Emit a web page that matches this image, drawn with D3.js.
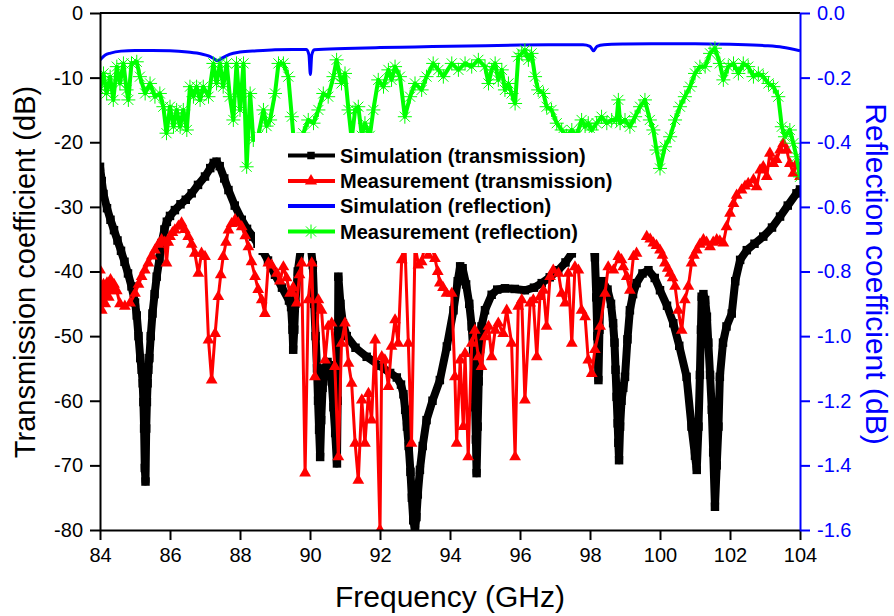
<!DOCTYPE html>
<html><head><meta charset="utf-8">
<script src="https://cdn.jsdelivr.net/npm/d3@7"></script>
<style>body{margin:0;background:#fff}svg{display:block}text{font-family:"Liberation Sans",Arial,sans-serif}</style>
</head><body><svg id="c" width="894" height="616"></svg>
<script>
const xTicks = [84,86,88,90,92,94,96,98,100,102,104];
const xTickLabels = ["84","86","88","90","92","94","96","98","100","102","104"];
const yLeftTicks = [0,-10,-20,-30,-40,-50,-60,-70,-80];
const yLeftLabels = ["0","-10","-20","-30","-40","-50","-60","-70","-80"];
const yRightTicks = [0,-0.2,-0.4,-0.6,-0.8,-1.0,-1.2,-1.4,-1.6];
const yRightLabels = ["0.0","-0.2","-0.4","-0.6","-0.8","-1.0","-1.2","-1.4","-1.6"];
const legendLabels = ["Simulation (transmission)","Measurement (transmission)","Simulation (reflection)","Measurement (reflection)"];

// Simulation (transmission) [GHz, dB] - left axis
const simTrans = [[84.00,-23.8],[84.05,-26.0],[84.10,-28.0],[84.20,-30.2],[84.30,-32.0],[84.40,-33.6],[84.50,-35.2],[84.60,-36.8],[84.70,-38.5],[84.80,-40.3],[84.90,-42.3],[85.00,-44.8],[85.05,-46.8],[85.10,-50.0],[85.15,-53.4],[85.19,-55.2],[85.22,-57.3],[85.24,-60.2],[85.26,-64.3],[85.28,-70.4],[85.30,-72.5],[85.32,-64.3],[85.34,-60.2],[85.36,-57.3],[85.38,-55.2],[85.41,-53.4],[85.45,-50.0],[85.50,-46.5],[85.56,-43.5],[85.62,-40.8],[85.70,-38.0],[85.76,-35.6],[85.84,-33.5],[85.91,-32.3],[86.00,-31.4],[86.14,-30.5],[86.30,-29.6],[86.45,-28.9],[86.62,-27.9],[86.80,-26.6],[87.00,-25.3],[87.15,-24.0],[87.25,-23.2],[87.33,-23.0],[87.42,-23.7],[87.55,-25.6],[87.67,-27.4],[87.85,-29.8],[88.05,-32.0],[88.20,-33.4],[88.37,-34.6],[88.50,-35.7],[88.65,-36.8],[88.80,-38.3],[89.00,-40.5],[89.20,-42.5],[89.40,-44.5],[89.46,-45.5],[89.50,-49.0],[89.52,-52.1],[89.55,-49.0],[89.58,-45.0],[89.65,-40.0],[89.75,-36.0],[89.90,-34.5],[90.00,-35.0],[90.08,-39.0],[90.12,-45.0],[90.16,-50.0],[90.20,-55.0],[90.23,-60.0],[90.26,-64.5],[90.29,-68.7],[90.32,-63.0],[90.36,-58.0],[90.42,-55.0],[90.50,-54.0],[90.57,-54.5],[90.62,-57.0],[90.67,-61.0],[90.72,-65.0],[90.77,-69.7],[90.79,-60.0],[90.80,-50.0],[90.81,-40.8],[90.87,-45.0],[90.94,-48.0],[91.05,-50.0],[91.30,-51.8],[91.62,-53.2],[92.00,-54.6],[92.29,-55.7],[92.48,-56.4],[92.60,-57.5],[92.67,-59.0],[92.72,-61.4],[92.77,-64.0],[92.82,-67.0],[92.87,-71.0],[92.91,-75.0],[92.95,-78.5],[93.00,-80.0],[93.04,-78.0],[93.08,-74.5],[93.14,-70.7],[93.22,-67.0],[93.33,-63.0],[93.50,-60.0],[93.71,-56.8],[93.91,-51.6],[94.10,-46.0],[94.22,-41.5],[94.29,-39.2],[94.36,-39.5],[94.46,-42.0],[94.55,-45.0],[94.62,-48.5],[94.66,-52.0],[94.69,-56.0],[94.72,-61.0],[94.74,-66.0],[94.76,-71.2],[94.79,-64.0],[94.82,-57.0],[94.86,-52.0],[94.90,-48.5],[95.00,-46.0],[95.19,-43.6],[95.35,-42.8],[95.57,-42.6],[95.85,-42.7],[96.14,-42.9],[96.40,-42.5],[96.62,-41.8],[96.85,-40.9],[97.09,-39.8],[97.30,-38.6],[97.48,-37.2],[97.65,-35.0],[97.85,-33.5],[98.00,-34.0],[98.10,-36.0],[98.14,-37.8],[98.18,-44.0],[98.21,-50.0],[98.24,-56.8],[98.27,-49.0],[98.30,-43.0],[98.36,-41.5],[98.50,-42.8],[98.60,-45.0],[98.66,-48.0],[98.70,-51.0],[98.73,-55.2],[98.76,-59.4],[98.79,-63.5],[98.81,-66.5],[98.83,-69.2],[98.86,-64.0],[98.90,-60.0],[98.95,-58.0],[99.00,-56.3],[99.07,-50.5],[99.14,-46.0],[99.23,-43.5],[99.33,-41.8],[99.50,-40.3],[99.67,-39.8],[99.85,-41.0],[100.00,-42.9],[100.20,-45.3],[100.38,-48.0],[100.55,-51.5],[100.76,-56.3],[100.90,-64.0],[101.00,-68.5],[101.05,-70.7],[101.10,-64.0],[101.14,-56.0],[101.17,-49.0],[101.19,-43.9],[101.24,-43.5],[101.29,-44.4],[101.34,-47.0],[101.38,-51.0],[101.43,-56.0],[101.48,-61.4],[101.52,-68.0],[101.57,-76.4],[101.62,-70.0],[101.67,-64.0],[101.71,-56.3],[101.80,-51.0],[101.90,-48.5],[102.05,-46.5],[102.15,-41.5],[102.29,-38.2],[102.48,-36.7],[102.70,-35.7],[102.95,-34.6],[103.20,-33.2],[103.43,-31.5],[103.65,-29.8],[103.90,-27.9],[104.00,-27.3]];

// Measurement (transmission) [GHz, dB] - left axis (null = gap)
const measTrans = [[84.00,-39.8],[84.05,-46.0],[84.10,-42.0],[84.15,-45.0],[84.20,-41.8],[84.25,-44.0],[84.30,-41.3],[84.35,-43.0],[84.40,-42.0],[84.48,-43.0],[84.57,-45.0],[84.71,-45.4],[84.86,-44.9],[85.00,-43.4],[85.10,-42.0],[85.19,-40.8],[85.28,-39.8],[85.38,-38.7],[85.48,-37.6],[85.57,-36.7],[85.67,-35.8],[85.76,-35.1],[85.85,-35.5],[85.90,-38.7],[85.95,-35.5],[86.00,-34.6],[86.07,-34.0],[86.14,-33.6],[86.24,-33.0],[86.33,-32.5],[86.42,-33.5],[86.52,-34.6],[86.62,-35.8],[86.71,-37.2],[86.81,-40.3],[86.90,-37.2],[87.00,-37.7],[87.10,-50.6],[87.19,-56.8],[87.29,-49.6],[87.38,-43.9],[87.45,-40.5],[87.52,-37.7],[87.60,-35.5],[87.67,-33.6],[87.76,-32.6],[87.86,-32.0],[87.95,-32.5],[88.05,-33.1],[88.15,-34.5],[88.24,-36.2],[88.33,-38.5],[88.43,-40.8],[88.52,-42.8],[88.62,-44.4],[88.71,-46.5],[88.81,-38.7],[88.90,-39.0],[89.05,-40.3],[89.14,-41.5],[89.24,-39.3],[89.33,-41.0],[89.43,-43.4],[89.52,-42.5],[89.62,-44.9],[89.70,-40.5],[89.76,-38.7],[89.86,-71.2],[89.95,-44.4],[90.05,-38.7],[90.14,-56.3],[90.24,-44.4],[90.33,-46.0],[90.43,-53.7],[90.52,-48.5],[90.62,-48.0],[90.71,-54.7],[90.81,-68.7],[90.90,-51.1],[91.00,-48.0],[91.10,-54.2],[91.19,-57.3],[91.29,-66.6],[91.38,-72.3],[91.48,-59.9],[91.57,-66.6],[91.67,-58.9],[91.76,-63.0],[91.86,-50.6],[92.00,-80.0],[92.05,-53.2],[92.14,-53.7],[92.24,-57.8],[92.33,-51.6],[92.43,-47.5],[92.52,-51.1],[92.62,-38.2],[92.71,-35.5],[92.81,-51.1],[92.90,-66.6],[93.00,-36.0],[93.10,-39.0],[93.19,-38.5],[93.28,-36.0],[93.38,-37.5],[93.48,-36.0],[93.57,-38.0],[93.65,-40.0],[93.71,-41.8],[93.80,-42.5],[93.90,-43.4],[94.05,-43.4],[94.14,-56.3],[94.19,-66.6],[94.29,-53.7],[94.38,-64.0],[94.43,-52.7],[94.52,-68.7],[94.62,-51.1],[94.71,-49.1],[94.81,-53.2],[94.90,-54.7],[95.00,-50.1],[95.10,-48.5],[95.19,-53.2],[95.29,-49.1],[95.38,-48.0],[95.52,-49.6],[95.62,-46.0],[95.76,-51.1],[95.86,-68.7],[95.95,-45.4],[96.05,-44.4],[96.14,-59.9],[96.29,-44.9],[96.38,-44.4],[96.48,-53.2],[96.57,-43.9],[96.67,-42.9],[96.76,-48.5],[96.86,-40.8],[96.95,-39.8],[97.10,-40.3],[97.19,-43.4],[97.29,-44.9],[97.38,-40.3],[97.48,-51.1],[97.57,-39.3],[97.67,-39.8],[97.76,-46.0],[97.86,-47.0],[97.95,-53.7],[98.05,-55.8],[98.14,-52.1],[98.29,-48.5],[98.43,-43.4],[98.52,-39.3],[98.67,-39.8],[98.81,-37.7],[98.90,-38.2],[98.95,-39.3],[99.05,-40.8],[99.14,-42.9],[99.24,-37.7],[99.33,-37.2],[99.48,null],[99.62,-34.6],[99.72,-35.0],[99.81,-35.6],[99.90,-36.0],[100.00,-36.7],[100.07,-37.5],[100.14,-38.7],[100.22,-39.5],[100.29,-40.3],[100.36,-41.0],[100.43,-42.3],[100.52,-46.0],[100.62,-49.1],[100.71,-44.4],[100.81,-42.3],[100.90,-38.7],[100.97,-37.5],[101.05,-36.7],[101.14,-35.8],[101.24,-35.1],[101.33,-35.5],[101.43,-36.2],[101.52,-35.5],[101.62,-35.1],[101.71,-35.3],[101.81,-35.6],[101.90,-33.1],[102.00,-31.0],[102.10,-29.5],[102.19,-28.2],[102.33,-27.4],[102.43,-26.8],[102.52,-26.4],[102.67,-25.8],[102.76,-26.9],[102.86,-24.3],[102.95,-23.8],[103.05,-25.3],[103.14,-21.7],[103.24,-23.3],[103.33,-22.7],[103.43,-21.2],[103.52,-20.2],[103.62,-21.2],[103.71,-23.3],[103.81,-24.8],[103.90,-23.3],[104.00,-25.3]];

// Simulation (reflection) [GHz, dB] - right axis
const simRefl = [[84.00,-0.145],[84.15,-0.130],[84.30,-0.124],[84.60,-0.118],[85.00,-0.116],[85.50,-0.116],[86.00,-0.117],[86.50,-0.121],[86.90,-0.127],[87.10,-0.133],[87.25,-0.141],[87.37,-0.148],[87.50,-0.139],[87.70,-0.128],[88.00,-0.121],[88.50,-0.117],[89.00,-0.114],[89.50,-0.113],[89.90,-0.113],[89.97,-0.130],[90.01,-0.190],[90.05,-0.130],[90.12,-0.114],[91.00,-0.110],[92.00,-0.107],[93.00,-0.105],[94.00,-0.103],[95.00,-0.101],[96.00,-0.099],[97.00,-0.098],[97.80,-0.098],[98.00,-0.103],[98.10,-0.117],[98.20,-0.103],[98.40,-0.098],[99.00,-0.096],[100.00,-0.095],[101.00,-0.095],[102.00,-0.097],[103.00,-0.101],[103.50,-0.106],[104.00,-0.117]];

// Measurement (reflection) [GHz, dB] - right axis
const measRefl = [[84.00,-0.238],[84.10,-0.187],[84.19,-0.249],[84.29,-0.197],[84.38,-0.269],[84.48,-0.166],[84.57,-0.218],[84.67,-0.156],[84.76,-0.238],[84.81,-0.269],[84.90,-0.156],[85.05,-0.151],[85.14,-0.197],[85.29,-0.249],[85.43,-0.218],[85.57,-0.259],[85.71,-0.249],[85.81,-0.290],[85.90,-0.372],[86.00,-0.290],[86.10,-0.352],[86.19,-0.300],[86.29,-0.352],[86.38,-0.300],[86.48,-0.362],[86.57,-0.228],[86.67,-0.259],[86.76,-0.228],[86.86,-0.269],[86.95,-0.228],[87.10,-0.259],[87.24,-0.156],[87.33,-0.218],[87.43,-0.156],[87.52,-0.228],[87.62,-0.156],[87.71,-0.259],[87.81,-0.331],[87.90,-0.156],[88.00,-0.300],[88.10,-0.156],[88.19,-0.476],[88.29,-0.249],[88.38,-0.393],[88.52,-0.380],[88.67,-0.300],[88.76,-0.350],[88.86,-0.331],[89.00,-0.249],[89.10,-0.156],[89.24,-0.156],[89.38,-0.197],[89.48,-0.321],[89.54,-0.400],[89.71,-0.400],[89.81,-0.372],[89.95,-0.331],[90.10,-0.341],[90.24,-0.300],[90.38,-0.249],[90.52,-0.259],[90.67,-0.197],[90.76,-0.145],[90.90,-0.218],[91.00,-0.187],[91.10,-0.300],[91.19,-0.390],[91.29,-0.300],[91.38,-0.290],[91.48,-0.380],[91.57,-0.341],[91.71,-0.380],[91.81,-0.300],[91.95,-0.207],[92.10,-0.228],[92.24,-0.176],[92.33,-0.207],[92.43,-0.166],[92.57,-0.197],[92.71,-0.321],[92.86,-0.259],[93.00,-0.218],[93.19,-0.238],[93.33,-0.197],[93.52,-0.156],[93.67,-0.176],[93.81,-0.197],[94.05,-0.156],[94.24,-0.176],[94.43,-0.156],[94.62,-0.166],[94.81,-0.145],[95.00,-0.166],[95.10,-0.218],[95.19,-0.176],[95.29,-0.156],[95.38,-0.207],[95.48,-0.176],[95.57,-0.238],[95.67,-0.218],[95.76,-0.249],[95.86,-0.280],[95.95,-0.135],[96.05,-0.125],[96.14,-0.115],[96.24,-0.145],[96.33,-0.125],[96.43,-0.197],[96.52,-0.238],[96.67,-0.249],[96.76,-0.290],[96.90,-0.300],[97.05,-0.341],[97.19,-0.362],[97.33,-0.380],[97.48,-0.362],[97.62,-0.380],[97.76,-0.331],[97.86,-0.352],[97.95,-0.341],[98.05,-0.362],[98.19,-0.341],[98.33,-0.321],[98.48,-0.341],[98.62,-0.331],[98.76,-0.331],[98.81,-0.269],[98.86,-0.341],[99.00,-0.331],[99.14,-0.352],[99.29,-0.321],[99.43,-0.290],[99.57,-0.269],[99.71,-0.331],[99.81,-0.362],[99.90,-0.424],[100.00,-0.481],[100.14,-0.414],[100.29,-0.383],[100.43,-0.331],[100.57,-0.290],[100.71,-0.259],[100.86,-0.228],[101.00,-0.187],[101.14,-0.166],[101.29,-0.166],[101.43,-0.125],[101.57,-0.109],[101.71,-0.156],[101.81,-0.207],[101.95,-0.166],[102.10,-0.156],[102.24,-0.187],[102.38,-0.156],[102.52,-0.166],[102.67,-0.197],[102.81,-0.187],[102.95,-0.197],[103.10,-0.218],[103.24,-0.228],[103.38,-0.259],[103.48,-0.352],[103.57,-0.383],[103.71,-0.362],[103.81,-0.403],[103.90,-0.445],[104.00,-0.507]];

const svg = d3.select("#c");
const L = 100, R = 800, T = 13, B = 530;
const x = d3.scaleLinear().domain([84,104]).range([L,R]);
const yL = d3.scaleLinear().domain([-80,0]).range([B,T]);
const yR = d3.scaleLinear().domain([-1.6,0]).range([B,T]);

svg.append("defs").append("clipPath").attr("id","plot").append("rect")
  .attr("x",L).attr("y",T).attr("width",R-L).attr("height",B-T);
const g = svg.append("g").attr("clip-path","url(#plot)");

function asterisk(s){const h=s/2,d=h*0.72;return `M${-h},0L${h},0M0,${-h}L0,${h}M${-d},${-d}L${d},${d}M${-d},${d}L${d},${-d}`;}

// black simulation transmission
const lineL = d3.line().defined(d=>d[1]!=null).x(d=>x(d[0])).y(d=>yL(d[1]));
g.append("path").datum(simTrans).attr("d",lineL).attr("fill","none").attr("stroke","#000").attr("stroke-width",8).attr("stroke-linejoin","round");
g.selectAll(".sq").data(simTrans).enter().append("path")
  .attr("d",d3.symbol(d3.symbolSquare,72)()).attr("transform",d=>`translate(${x(d[0])},${yL(d[1])})`).attr("fill","#000");

// red measurement transmission
g.append("path").datum(measTrans).attr("d",lineL).attr("fill","none").attr("stroke","#ff0000").attr("stroke-width",3).attr("stroke-linejoin","round");
g.selectAll(".tri").data(measTrans.filter(d=>d[1]!=null)).enter().append("path")
  .attr("d",d3.symbol(d3.symbolTriangle,60)()).attr("transform",d=>`translate(${x(d[0])},${yL(d[1])})`).attr("fill","#ff0000");

// blue simulation reflection
const lineR = d3.line().x(d=>x(d[0])).y(d=>yR(d[1]));
g.append("path").datum(simRefl).attr("d",lineR.curve(d3.curveMonotoneX)).attr("fill","none").attr("stroke","#0000ff").attr("stroke-width",3);

// green measurement reflection
const lineR2 = d3.line().x(d=>x(d[0])).y(d=>yR(d[1]));
g.append("path").datum(measRefl).attr("d",lineR2).attr("fill","none").attr("stroke","#00ff00").attr("stroke-width",4).attr("stroke-linejoin","round");
g.selectAll(".ast").data(measRefl).enter().append("path")
  .attr("d",asterisk(14)).attr("transform",d=>`translate(${x(d[0])},${yR(d[1])})`).attr("stroke","#00ff00").attr("stroke-width",1).attr("fill","none");

// legend (white box hides data behind)
const lg = svg.append("g");
lg.append("rect").attr("x",255).attr("y",133).attr("width",360).attr("height",120).attr("fill","#fff");
const rows = [155.5,181,206,231.5];
const cols = ["#000","#ff0000","#0000ff","#00ff00"];
legendLabels.forEach((t,i)=>{
  lg.append("line").attr("x1",288).attr("x2",335).attr("y1",rows[i]).attr("y2",rows[i]).attr("stroke",cols[i]).attr("stroke-width",4);
  if(i===0) lg.append("path").attr("d",d3.symbol(d3.symbolSquare,56)()).attr("transform",`translate(311,${rows[i]})`).attr("fill","#000");
  if(i===1) lg.append("path").attr("d",d3.symbol(d3.symbolTriangle,64)()).attr("transform",`translate(311,${rows[i]})`).attr("fill","#ff0000");
  if(i===3) lg.append("path").attr("d",asterisk(14)).attr("transform",`translate(311,${rows[i]})`).attr("stroke","#00ff00").attr("stroke-width",1).attr("fill","none");
  lg.append("text").attr("x",340).attr("y",rows[i]).attr("dy","0.36em").attr("font-size",20).attr("font-weight","bold").attr("fill","#000").text(t);
});

// frame top
svg.append("line").attr("x1",L).attr("x2",R).attr("y1",T).attr("y2",T).attr("stroke","#000").attr("stroke-width",2);

// axes
const ax = svg.append("g").attr("transform",`translate(0,${B})`)
  .call(d3.axisBottom(x).tickValues(xTicks).tickFormat((d,i)=>xTickLabels[i]).tickSize(10).tickPadding(8).tickSizeOuter(0));
const ay = svg.append("g").attr("transform",`translate(${L},0)`)
  .call(d3.axisLeft(yL).tickValues(yLeftTicks).tickFormat((d,i)=>yLeftLabels[i]).tickSize(10).tickPadding(7).tickSizeOuter(0));
const ar = svg.append("g").attr("transform",`translate(${R},0)`)
  .call(d3.axisRight(yR).tickValues(yRightTicks).tickFormat((d,i)=>yRightLabels[i]).tickSize(10).tickPadding(7).tickSizeOuter(0));
[ax,ay].forEach(a=>{a.select(".domain").attr("stroke","#000").attr("stroke-width",2);a.selectAll(".tick line").attr("stroke","#000").attr("stroke-width",2);a.selectAll("text").attr("fill","#000").attr("font-size",20).attr("font-family","Liberation Sans, Arial, sans-serif");});
ar.select(".domain").attr("stroke","#0000ff").attr("stroke-width",2);
ar.selectAll(".tick line").attr("stroke","#0000ff").attr("stroke-width",2);
ar.selectAll("text").attr("fill","#0000ff").attr("font-size",20).attr("font-family","Liberation Sans, Arial, sans-serif");

// titles
svg.append("text").attr("x",450).attr("y",607).attr("text-anchor","middle").attr("font-size",30).attr("fill","#000").text("Frequency (GHz)");
svg.append("text").attr("transform","translate(35,272) rotate(-90)").attr("text-anchor","middle").attr("font-size",29).attr("fill","#000").text("Transmission coefficient (dB)");
svg.append("text").attr("transform","translate(866,274) rotate(90)").attr("text-anchor","middle").attr("font-size",30).attr("fill","#0000ff").text("Reflection coefficient (dB)");
</script></body></html>
